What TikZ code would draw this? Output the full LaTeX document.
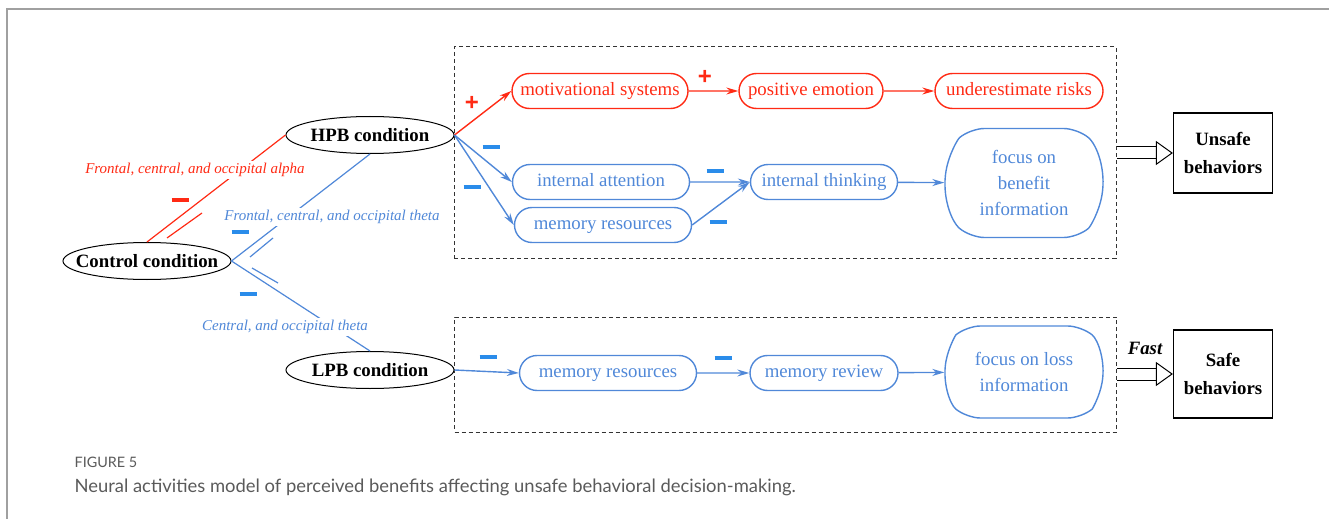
\documentclass[tikz,border=0pt]{standalone}
\usepackage{fontspec}
\setmainfont{Liberation Serif}
\newfontfamily\capfont{Lato}
\newfontfamily\signfont{Liberation Sans}
\usetikzlibrary{arrows.meta, positioning, shapes.geometric, shapes.misc, calc}
\definecolor{cred}{HTML}{FF2A14}
\definecolor{cblue}{HTML}{5088D8}
\definecolor{cminus}{HTML}{2A8CEA}
\definecolor{cframe}{HTML}{A0A0A0}
\definecolor{ccap}{HTML}{5A5A5A}
\newcommand{\mns}{\rule{8.5pt}{1.7pt}}
\newcommand{\pls}{{\signfont\bfseries\fontsize{12}{12}\selectfont +}}
\tikzset{
  every picture/.style={line width=0.6pt},
  cond/.style={ellipse, draw, line width=0.5pt, minimum width=84pt, minimum height=18.5pt, inner sep=0pt, font=\bfseries\fontsize{9.4}{11}\selectfont},
  pill/.style={rounded rectangle, draw=#1, text=#1, line width=0.7pt, minimum height=17.5pt, inner sep=0pt, text height=6.6pt, text depth=2pt, font=\fontsize{9.4}{11}\selectfont},
  focus/.style={pill=cblue, rounded rectangle arc length=100, rounded corners=7pt, text height=, text depth=, align=center, minimum width=79pt, font=\fontsize{9.4}{13}\selectfont},
  outbox/.style={draw, line width=0.6pt, align=center, minimum width=49.5pt, font=\bfseries\fontsize{9.4}{14}\selectfont},
  zone/.style={draw=black!80, line width=0.5pt, dash pattern=on 2pt off 1.5pt, minimum width=331pt, inner sep=0pt},
  flow/.style={-{Stealth[length=6pt, width=3.5pt, inset=2pt]}, line width=0.7pt, draw=#1},
  link/.style={draw=#1, line width=0.6pt},
  wave/.style={font=\itshape\fontsize{7.5}{9}\selectfont, text=#1, fill=white, inner sep=1pt},
  sgn/.style={text=#1, inner sep=0pt},
  hollow/.style={draw, line width=0.5pt, double distance=5.5pt, -{Triangle[open, length=8.5pt, width=12pt]}},
}
\begin{document}
\begin{tikzpicture}[x=0.5pt, y=-0.5pt]
  \useasboundingbox (0,0) rectangle (1329,519);
  \draw[cframe, line width=1pt] (7,519) -- (7,9) -- (1329,9);
  % conditions
  \node[cond] (ctrl) at (147,261) {\makebox[0pt]{Control condition}};
  \node[cond] (hpb) at (370,135) {\makebox[0pt]{HPB condition}};
  \node[cond] (lpb) at (370,370) {\makebox[0pt]{LPB condition}};
  \draw[link=cred] (ctrl.north) -- (hpb.west);
  \draw[link=cblue] (ctrl.east) -- (hpb.south);
  \draw[link=cblue] (ctrl.east) -- (lpb.north);
  \draw[link=cred] (167,238) -- (202,213);
  \draw[link=cblue] (250,257) -- (273,238);
  \draw[link=cblue] (252,268) -- (278,283);
  \node[wave=cred] (alpha) at (195,170) {Frontal, central, and occipital alpha};
  \node[wave=cblue] (theta) at (332,217) {Frontal, central, and occipital theta};
  \node[wave=cblue] (ctheta) at (285,327) {Central, and occipital theta};
  \node[sgn=cred] (s1) at (180,200) {\mns};
  \node[sgn=cminus] (s2) at (240,232) {\mns};
  \node[sgn=cminus] (s3) at (248,294) {\mns};
  % high perceived benefit
  \node[zone, minimum height=105.5pt] (upbox) at (785,152.5) {};
  \node[pill=cred, minimum width=88pt] (mot) at (600,91) {motivational systems};
  \node[pill=cred, minimum width=72pt] (pos) at (811,91) {positive emotion};
  \node[pill=cred, minimum width=84pt] (risk) at (1019,91) {underestimate risks};
  \node[pill=cblue, minimum width=88.5pt] (att) at (601,182) {internal attention};
  \node[pill=cblue, minimum width=88.5pt] (mem) at (603,225) {memory resources};
  \node[pill=cblue, minimum width=73.5pt] (think) at (824,182) {internal thinking};
  \node[focus, minimum height=54.5pt] (benefit) at (1024,183) {focus on\\benefit\\information};
  \draw[flow=cred] (hpb.east) -- (mot.west);
  \draw[flow=cred] (mot) -- (pos);
  \draw[flow=cred] (pos) -- (risk);
  \draw[flow=cblue] (hpb.east) -- (att.west);
  \draw[flow=cblue] (hpb.east) -- (mem.west);
  \draw[flow=cblue] (att) -- (think.west);
  \draw[flow=cblue] (mem.east) -- (think.west);
  \draw[flow=cblue] (think) -- (benefit);
  \node[sgn=cred] (p1) at (472,103) {\pls};
  \node[sgn=cred] (p2) at (705,77) {\pls};
  \node[sgn=cminus] (s4) at (491,147) {\mns};
  \node[sgn=cminus] (s5) at (472,187) {\mns};
  \node[sgn=cminus] (s6) at (715,171) {\mns};
  \node[sgn=cminus] (s7) at (718,222) {\mns};
  % low perceived benefit
  \node[zone, minimum height=57.5pt] (lowbox) at (785.5,374.5) {};
  \node[pill=cblue, minimum width=88.5pt] (memb) at (608,373) {memory resources};
  \node[pill=cblue, minimum width=74pt] (review) at (824,373) {memory review};
  \node[focus, minimum height=46pt] (loss) at (1024,372) {focus on loss\\information};
  \draw[flow=cblue] (lpb.east) -- (memb.west);
  \draw[flow=cblue] (memb) -- (review);
  \draw[flow=cblue] (review) -- (loss);
  \node[sgn=cminus] (s8) at (488,357) {\mns};
  \node[sgn=cminus] (s9) at (723,358) {\mns};
  % behaviors
  \node[outbox, minimum height=40pt] (unsafe) at (1223,153) {Unsafe\\behaviors};
  \node[outbox, minimum height=44pt] (safe) at (1223,374) {Safe\\behaviors};
  \draw[hollow] (upbox.east |- unsafe.west) -- (unsafe.west);
  \draw[hollow] (lowbox.east |- safe.west) -- (safe.west);
  \node[font=\bfseries\itshape\fontsize{9.4}{11}\selectfont] (fast) at (1145,348) {Fast};
  % caption
  \node[anchor=west, inner sep=0pt, text=ccap, font=\capfont\fontsize{7.2}{8}\selectfont] (fig) at (74,462) {FIGURE 5};
  \node[anchor=west, inner sep=0pt, text=ccap, font=\capfont\fontsize{9.2}{10}\selectfont] (cap) at (74,487) {Neural activities model of perceived benefits affecting unsafe behavioral decision-making.};
\end{tikzpicture}
\end{document}
